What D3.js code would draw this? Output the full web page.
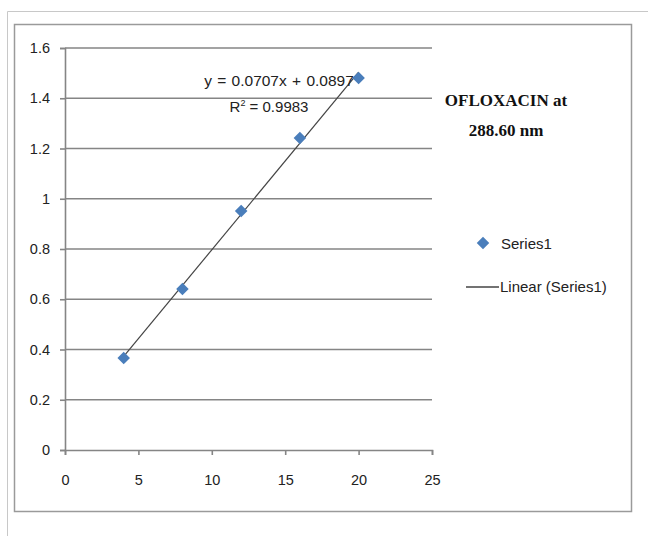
<!DOCTYPE html>
<html><head><meta charset="utf-8">
<script src="https://cdn.jsdelivr.net/npm/d3@7"></script>
<style>body{margin:0;background:#fff;}svg{display:block;}</style>
</head><body>
<script>
const concentrations = [4, 8, 12, 16, 20];
const absorbance = [0.366, 0.641, 0.951, 1.242, 1.481];
const slope = 0.0707, intercept = 0.0897;
const xTicks = [0, 5, 10, 15, 20, 25];
const yTicks = [0, 0.2, 0.4, 0.6, 0.8, 1, 1.2, 1.4, 1.6];
const titleLines = ["OFLOXACIN at", "288.60 nm"];
const equationText = "y = 0.0707x + 0.0897";
const seriesName = "Series1";
const trendName = "Linear (Series1)";

const W = 648, H = 536;
const svg = d3.select("body").append("svg").attr("width", W).attr("height", H);
// outer frame
svg.append("path").attr("d", "M7.5,536 V11.5 H648").attr("fill","none").attr("stroke","#c8c8c8").attr("stroke-width",1);
// chart border
svg.append("rect").attr("x",14.5).attr("y",24.5).attr("width",617).attr("height",487)
  .attr("fill","#fff").attr("stroke","#9a9a9a").attr("stroke-width",1.5);

const x = d3.scaleLinear().domain([0,25]).range([65,432]);
const y = d3.scaleLinear().domain([0,1.6]).range([450,48]);
const font = "'Liberation Sans', Arial, sans-serif";

// gridlines
svg.append("g").selectAll("line").data(yTicks.filter(d=>d>0)).join("line")
  .attr("x1",x(0)).attr("x2",x(25)).attr("y1",d=>y(d)).attr("y2",d=>y(d))
  .attr("stroke","#858585").attr("stroke-width",1.6);

const yAxis = svg.append("g").attr("transform",`translate(${x(0)},0)`)
  .call(d3.axisLeft(y).tickValues(yTicks).tickFormat(d=>d3.format("")(d)).tickSize(5).tickPadding(10));
const xAxis = svg.append("g").attr("transform",`translate(0,${y(0)})`)
  .call(d3.axisBottom(x).tickValues(xTicks).tickSize(5).tickPadding(20));
[yAxis,xAxis].forEach(g=>{
  g.select(".domain").attr("stroke","#858585").attr("stroke-width",1.6);
  g.selectAll(".tick line").attr("stroke","#858585").attr("stroke-width",1.6);
  g.selectAll("text").attr("fill","#222").style("font-family",font).style("font-size","14.5px");
});

// trendline
const xs = d3.extent(concentrations);
svg.append("line").attr("x1",x(xs[0])).attr("y1",y(slope*xs[0]+intercept))
  .attr("x2",x(xs[1])).attr("y2",y(slope*xs[1]+intercept))
  .attr("stroke","#444").attr("stroke-width",1.2);

// points
const diamond = d3.symbol().type(d3.symbolDiamond2).size(100);
svg.append("g").selectAll("path").data(concentrations).join("path")
  .attr("d",diamond).attr("transform",(d,i)=>`translate(${x(d)},${y(absorbance[i])})`)
  .attr("fill","#4a7ebb");

// equation
svg.append("text").attr("x",279).attr("y",86).attr("text-anchor","middle")
  .style("font-family",font).style("font-size","15.5px").style("word-spacing","1px").attr("fill","#222").text(equationText);
const r2 = svg.append("text").attr("x",269).attr("y",112).attr("text-anchor","middle")
  .style("font-family",font).style("font-size","15px").attr("fill","#222");
r2.append("tspan").text("R");
r2.append("tspan").attr("dy",-6).style("font-size","9px").text("2");
r2.append("tspan").attr("dy",6).text(" = 0.9983");

// title
svg.append("g").selectAll("text").data(titleLines).join("text")
  .attr("x",506).attr("y",(d,i)=>106+i*30).attr("text-anchor","middle")
  .style("font-family","'Liberation Serif', 'Times New Roman', serif").style("font-weight","bold")
  .style("font-size","17px").attr("fill","#111").text(d=>d);

// legend
svg.append("path").attr("d",diamond).attr("transform","translate(483,243)").attr("fill","#4a7ebb");
svg.append("text").attr("x",501).attr("y",249).style("font-family",font).style("font-size","15px").attr("fill","#222").text(seriesName);
svg.append("line").attr("x1",466).attr("x2",499).attr("y1",287).attr("y2",287).attr("stroke","#444").attr("stroke-width",1.5);
svg.append("text").attr("x",500).attr("y",292).style("font-family",font).style("font-size","15px").attr("fill","#222").text(trendName);
</script>
</body></html>
